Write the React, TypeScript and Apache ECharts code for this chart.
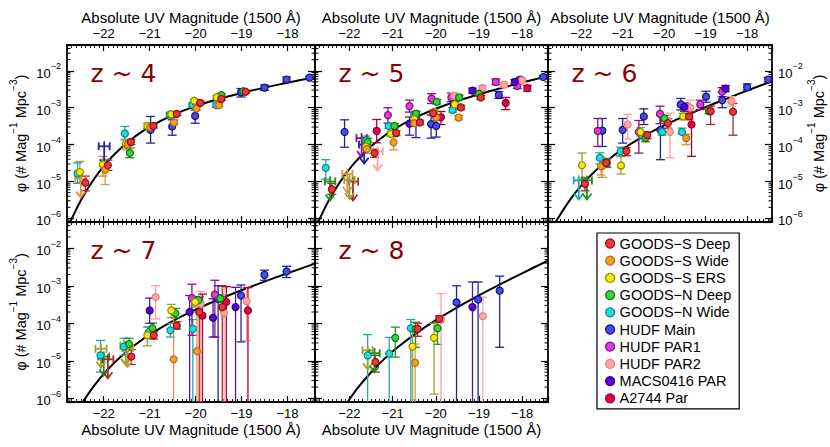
import React, { useEffect, useRef } from "react";
import * as echarts from "echarts";

// ---------- legend / field styling ----------
const FIELDS = [
  "GOODS−S Deep",
  "GOODS−S Wide",
  "GOODS−S ERS",
  "GOODS−N Deep",
  "GOODS−N Wide",
  "HUDF Main",
  "HUDF PAR1",
  "HUDF PAR2",
  "MACS0416 PAR",
  "A2744 Par",
];
const FILL = ["#e8363c", "#f2a01e", "#f4f000", "#33d633", "#18e0e0", "#4a4ae6", "#dc3cdc", "#ffa6a6", "#5a00dc", "#e6004c"];
const EDGE = ["#8b1010", "#b06a20", "#8a8a00", "#107010", "#108080", "#101080", "#801080", "#f07c7c", "#30007a", "#8a0030"];
const ERRC = ["#a52a2a", "#d8944a", "#a0a030", "#1e901e", "#20a8a8", "#22229a", "#8b108b", "#ffa0a0", "#4818a8", "#b0002a"];
const DRAW_ORDER = [5, 6, 7, 8, 9, 4, 3, 2, 1, 0];

const PANEL_LABELS = ["z ~ 4", "z ~ 5", "z ~ 6", "z ~ 7", "z ~ 8"];
const X_TITLE = "Absolute UV Magnitude (1500 Å)";
const X_MIN = -22.8;
const X_MAX = -17.4;
const Y_MIN = 8e-7;
const Y_MAX = 0.05;

// ---------- data: [field, M_UV, phi, phiLow, phiHigh] ----------
const Z4_POINTS = [
  [2, -22.52, 1.8e-5, 9.3e-6, 3.5e-5], [2, -22.02, 2.9e-5, 1.4e-5, 4.8e-5], [2, -21.52, 1.05e-4, 7.6e-5, 1.4e-4],
  [2, -21.05, 3.2e-4, 2.75e-4, 3.8e-4], [2, -20.53, 6.6e-4, 5.9e-4, 7.4e-4], [2, -20.03, 1.55e-3, 1.38e-3, 1.7e-3],
  [2, -19.54, 1.9e-3, 1.7e-3, 2.1e-3],
  [4, -22.57, 1.65e-5, 8.9e-6, 3.2e-5], [4, -21.54, 2.0e-4, 1.35e-4, 3.1e-4], [4, -20.56, 6.5e-4, 5.6e-4, 7.4e-4],
  [4, -20.07, 1.2e-3, 1.05e-3, 1.35e-3], [4, -19.55, 1.17e-3, 1.02e-3, 1.35e-3],
  [0, -22.4, 9.3e-6, 5.6e-6, 1.4e-5], [0, -21.91, 2.75e-5, 2.0e-5, 3.8e-5], [0, -21.41, 1.17e-4, 1.0e-4, 1.38e-4],
  [0, -20.92, 3.2e-4, 2.8e-4, 3.6e-4], [0, -20.41, 6.8e-4, 6.2e-4, 7.4e-4], [0, -19.9, 1.35e-3, 1.23e-3, 1.48e-3],
  [0, -19.44, 1.74e-3, 1.58e-3, 1.9e-3], [0, -18.91, 2.7e-3, 2.5e-3, 2.9e-3],
  [1, -21.97, 2.1e-5, 8.3e-6, 4.0e-5], [1, -21.48, 1.0e-4, 7.1e-5, 1.35e-4], [1, -20.99, 3.0e-4, 2.6e-4, 3.5e-4],
  [1, -20.47, 4.0e-4, 3.5e-4, 4.7e-4], [1, -19.98, 9.5e-4, 8.5e-4, 1.07e-3], [1, -19.49, 1.17e-3, 1.05e-3, 1.32e-3],
  [3, -21.43, 5.9e-5, 4.4e-5, 8.1e-5], [3, -21.0, 3.0e-4, 2.6e-4, 3.5e-4], [3, -20.5, 6.5e-4, 5.8e-4, 7.3e-4],
  [3, -20.01, 1.45e-3, 1.3e-3, 1.6e-3], [3, -19.44, 2.2e-3, 2.0e-3, 2.4e-3], [3, -18.96, 2.8e-3, 2.6e-3, 3.0e-3],
  [5, -20.98, 2.5e-4, 1.1e-4, 5.8e-4], [5, -20.51, 3.1e-4, 1.8e-4, 4.7e-4], [5, -20.01, 6.0e-4, 3.8e-4, 8.7e-4],
  [5, -19.01, 2.6e-3, 1.95e-3, 3.3e-3], [5, -18.5, 3.5e-3, 2.95e-3, 4.1e-3], [5, -18.02, 5.8e-3, 4.9e-3, 6.8e-3],
  [5, -17.52, 6.5e-3, 5.9e-3, 7.1e-3],
];
const Z4_LIMITS = [[1, -22.5, 1.2e-5], [5, -21.99, 9e-5]];
const Z4_CURVE_M = [-22.8, -22.5, -22.2, -21.9, -21.6, -21.3, -21.0, -20.5, -20.0, -19.5, -19.0, -18.5, -18.0, -17.4];
const Z4_CURVE_PHI = [5.2e-7, 3.07e-6, 1.23e-5, 3.65e-5, 8.65e-5, 1.73e-4, 3.04e-4, 6.31e-4, 1.1e-3, 1.72e-3, 2.51e-3, 3.5e-3, 4.75e-3, 6.7e-3];

const Z5_POINTS = [
  [5, -22.115, 2.2e-4, 8.5e-5, 4.7e-4], [5, -20.46, 5.1e-4, 1.55e-4, 7.9e-4], [5, -20.11, 3.6e-4, 1.5e-4, 6.3e-4],
  [5, -19.99, 3.2e-4, 1.6e-4, 5.6e-4], [5, -18.54, 2.2e-3, 1.8e-3, 2.75e-3], [5, -18.04, 5.8e-3, 5.0e-3, 6.6e-3],
  [5, -17.51, 6.8e-3, 6.2e-3, 7.4e-3],
  [4, -22.55, 2.35e-5, 1.15e-5, 3.9e-5], [4, -21.62, 1.3e-4, 1.0e-4, 1.7e-4], [4, -21.09, 3.2e-4, 2.8e-4, 3.7e-4],
  [4, -20.5, 6.3e-4, 5.5e-4, 7.2e-4], [4, -19.61, 8.7e-4, 7.6e-4, 1.0e-3],
  [3, -21.58, 1.17e-4, 8.9e-5, 1.5e-4], [3, -20.96, 3.2e-4, 2.8e-4, 3.7e-4], [3, -20.46, 6.9e-4, 6.0e-4, 7.9e-4],
  [3, -19.98, 1.45e-3, 1.26e-3, 1.66e-3], [3, -19.46, 1.9e-3, 1.66e-3, 2.2e-3], [3, -19.0, 2.4e-3, 2.1e-3, 2.7e-3],
  [0, -22.41, 6.2e-6, 4.5e-6, 8.9e-6], [0, -21.42, 5.9e-5, 4.5e-5, 7.5e-5], [0, -20.92, 2.05e-4, 1.74e-4, 2.4e-4],
  [0, -20.37, 4.0e-4, 3.5e-4, 4.6e-4], [0, -20.06, 7.1e-4, 6.2e-4, 8.1e-4], [0, -19.42, 1.02e-3, 8.9e-4, 1.17e-3],
  [0, -18.96, 1.9e-3, 1.7e-3, 2.15e-3],
  [2, -21.62, 8.9e-5, 7.0e-5, 1.1e-4], [2, -21.04, 1.95e-4, 1.66e-4, 2.3e-4], [2, -20.5, 4.9e-4, 4.2e-4, 5.6e-4],
  [2, -20.04, 7.8e-4, 6.8e-4, 8.9e-4], [2, -19.56, 1.23e-3, 1.07e-3, 1.4e-3],
  [1, -21.6, 7.6e-5, 5.8e-5, 1.0e-4], [1, -20.98, 1.15e-4, 7.2e-5, 1.66e-4], [1, -20.5, 3.8e-4, 3.2e-4, 4.5e-4],
  [1, -19.99, 5.4e-4, 4.6e-4, 6.3e-4], [1, -19.47, 5.4e-4, 4.7e-4, 6.2e-4],
  [6, -21.11, 6.3e-4, 3.8e-4, 1.0e-3], [6, -20.61, 1.1e-3, 7.6e-4, 1.6e-3], [6, -20.1, 1.78e-3, 1.3e-3, 2.4e-3],
  [6, -19.64, 1.9e-3, 1.45e-3, 2.5e-3], [6, -18.61, 5.0e-3, 4.2e-3, 6.0e-3], [6, -18.11, 3.9e-3, 3.3e-3, 4.6e-3],
  [7, -19.58, 2.1e-3, 1.7e-3, 2.6e-3], [7, -18.92, 3.4e-3, 2.9e-3, 4.0e-3], [7, -18.42, 4.2e-3, 3.6e-3, 4.9e-3],
  [7, -18.0, 5.5e-3, 4.8e-3, 6.3e-3],
  [8, -20.61, 3.7e-4, 1.8e-4, 5.6e-4], [8, -19.59, 1.23e-3, 1.0e-3, 1.5e-3], [8, -19.15, 2.9e-3, 2.5e-3, 3.4e-3],
  [8, -18.17, 5.0e-3, 4.3e-3, 5.8e-3],
  [9, -21.37, 2.35e-4, 1.12e-4, 4.8e-4], [9, -19.88, 5.5e-4, 3.5e-4, 7.9e-4], [9, -18.38, 1.35e-3, 8.9e-4, 1.9e-3],
  [9, -17.88, 3.4e-3, 2.8e-3, 4.0e-3],
];
const Z5_LIMITS = [
  [3, -22.45, 1.0e-5], [0, -21.92, 1.0e-5], [1, -22.05, 1.6e-5], [2, -22.0, 1.1e-5],
  [6, -21.72, 1.5e-4], [5, -21.66, 1.0e-4], [7, -21.35, 6.5e-5],
];
const Z5_CURVE_M = [-22.8, -22.5, -22.2, -21.9, -21.6, -21.3, -21.0, -20.5, -20.0, -19.5, -19.0, -18.5, -18.0, -17.4];
const Z5_CURVE_PHI = [5.15e-7, 2.8e-6, 1.06e-5, 3.04e-5, 7.07e-5, 1.4e-4, 2.47e-4, 5.21e-4, 9.36e-4, 1.52e-3, 2.31e-3, 3.37e-3, 4.79e-3, 7.16e-3];

const Z6_POINTS = [
  [2, -21.98, 2.75e-5, 1.15e-5, 5.9e-5], [2, -21.5, 2.6e-5, 1.3e-5, 4.5e-5], [2, -21.04, 2.7e-5, 1.6e-5, 4.7e-5],
  [2, -20.57, 2.2e-4, 1.7e-4, 2.9e-4], [2, -19.54, 5.8e-4, 4.7e-4, 7.1e-4],
  [4, -21.55, 4.4e-5, 3.0e-5, 6.0e-5], [4, -21.05, 6.6e-5, 5.0e-5, 8.5e-5], [4, -20.53, 1.8e-4, 1.45e-4, 2.2e-4],
  [4, -20.05, 2.2e-4, 1.8e-4, 2.7e-4], [4, -19.57, 2.2e-4, 1.9e-4, 2.8e-4],
  [3, -21.38, 3.2e-5, 2.4e-5, 4.2e-5], [3, -20.45, 1.5e-4, 1.2e-4, 1.8e-4], [3, -19.99, 5.1e-4, 4.2e-4, 6.2e-4],
  [3, -18.92, 8.1e-4, 6.9e-4, 9.5e-4],
  [0, -21.91, 8.7e-6, 5.6e-6, 1.26e-5], [0, -21.4, 3.2e-5, 2.6e-5, 3.9e-5], [0, -20.91, 6.6e-5, 5.0e-5, 8.3e-5],
  [0, -20.41, 1.8e-4, 1.45e-4, 2.2e-4], [0, -19.91, 3.8e-4, 2.8e-4, 5.0e-4], [0, -19.4, 5.8e-4, 4.8e-4, 7.0e-4],
  [0, -18.88, 8.1e-4, 3.5e-4, 1.1e-3], [0, -18.34, 7.8e-4, 1.8e-4, 1.3e-3],
  [1, -21.52, 2.6e-5, 1.5e-5, 4.4e-5], [1, -19.47, 1.5e-4, 1.0e-4, 1.9e-4],
  [5, -21.49, 2.4e-4, 8.9e-5, 5.1e-4], [5, -21.0, 2.5e-4, 1.1e-4, 5.1e-4], [5, -20.49, 5.8e-4, 3.5e-4, 9.3e-4],
  [5, -20.09, 2.5e-4, 3.9e-5, 6.3e-4], [5, -19.6, 1.23e-3, 8.7e-4, 1.78e-3], [5, -18.99, 2.0e-3, 1.4e-3, 2.8e-3],
  [5, -18.6, 1.6e-3, 1.0e-3, 2.6e-3], [5, -18.0, 3.6e-3, 3.0e-3, 4.4e-3], [5, -17.49, 5.8e-3, 5.0e-3, 6.6e-3],
  [6, -21.6, 2.35e-4, 8.9e-5, 5.1e-4], [6, -20.61, 2.2e-4, 5.9e-5, 4.5e-4], [6, -20.1, 6.8e-4, 3.7e-4, 1.1e-3],
  [6, -19.13, 1.23e-3, 8.9e-4, 1.6e-3], [6, -18.6, 2.7e-3, 2.0e-3, 3.5e-3],
  [7, -20.88, 3.5e-4, 1.4e-4, 6.6e-4], [7, -19.86, 2.2e-4, 4.4e-5, 7.1e-4], [7, -19.37, 1.0e-3, 5.0e-4, 1.6e-3],
  [7, -18.38, 1.5e-3, 1.1e-3, 2.0e-3],
  [8, -19.51, 1.05e-3, 8.0e-4, 1.35e-3], [8, -18.52, 3.3e-3, 2.7e-3, 4.0e-3],
  [9, -19.34, 3.5e-4, 4.8e-5, 7.8e-4],
];
const Z6_LIMITS = [[4, -22.06, 1.07e-5], [3, -21.86, 1.07e-5]];
const Z6_CURVE_M = [-22.8, -22.6, -22.3, -22.0, -21.7, -21.4, -21.0, -20.5, -20.0, -19.5, -19.0, -18.5, -18.0, -17.4];
const Z6_CURVE_PHI = [3.2e-7, 8.5e-7, 2.86e-6, 7.71e-6, 1.75e-5, 3.49e-5, 7.55e-5, 1.67e-4, 3.3e-4, 6.0e-4, 1.04e-3, 1.75e-3, 2.9e-3, 5.22e-3];

const Z7_POINTS = [
  [2, -21.05, 4.8e-5, 2.5e-5, 7.9e-5], [2, -20.53, 2.2e-4, 1.4e-4, 3.2e-4], [2, -20.01, 3.7e-4, 2.7e-4, 5.0e-4],
  [4, -22.07, 1.4e-5, 5e-6, 3.5e-5], [4, -21.56, 2.4e-5, 1.4e-5, 4.0e-5], [4, -21.02, 5.8e-5, 4.0e-5, 8.0e-5],
  [4, -20.55, 6.5e-5, 4.3e-5, 1.0e-4], [4, -20.06, 7.1e-5, 1e-7, 1.26e-4],
  [0, -21.4, 1.3e-5, 8e-6, 2.0e-5], [0, -20.91, 4.8e-5, 3.8e-5, 6.0e-5], [0, -20.41, 8.7e-5, 7.0e-5, 1.1e-4],
  [0, -19.92, 2.0e-4, 1e-7, 5.0e-4], [0, -19.42, 2.7e-4, 1e-7, 1.0e-3],
  [3, -21.45, 2.8e-5, 1.9e-5, 4.0e-5], [3, -20.94, 7.4e-5, 5.5e-5, 1.0e-4], [3, -20.44, 1.86e-4, 1.4e-4, 2.5e-4],
  [3, -19.94, 4.1e-4, 3.2e-4, 5.2e-4], [3, -19.46, 4.6e-4, 3.6e-4, 5.8e-4],
  [1, -20.48, 1.1e-5, 1e-7, 2.0e-4], [1, -19.97, 1.8e-5, 1e-7, 2.0e-4],
  [5, -19.51, 4.5e-4, 1e-7, 1.0e-3], [5, -19.01, 5.5e-4, 3.2e-5, 1.05e-3], [5, -18.5, 1.95e-3, 1.4e-3, 2.6e-3],
  [5, -18.02, 2.4e-3, 1.66e-3, 3.3e-3],
  [8, -21.0, 2.2e-4, 1.0e-4, 4.7e-4], [8, -20.13, 2.0e-4, 1e-7, 5.5e-4], [8, -19.62, 1.4e-4, 4.3e-5, 4.5e-4],
  [8, -19.13, 2.7e-4, 1e-7, 9.1e-4],
  [6, -20.08, 4.7e-4, 4.8e-5, 1.1e-3], [6, -19.58, 5.8e-4, 4.3e-5, 1.4e-3],
  [7, -20.87, 5.0e-4, 1.3e-4, 1.0e-3], [7, -19.89, 3.3e-4, 1e-7, 7.1e-4], [7, -19.38, 1.9e-4, 1e-7, 8.7e-4],
  [7, -18.89, 3.9e-4, 3.5e-5, 9.1e-4],
  [9, -19.85, 1.6e-4, 1e-7, 6.0e-4], [9, -19.33, 3.7e-4, 1e-7, 9.5e-4], [9, -18.86, 2.2e-4, 1e-7, 8.9e-4],
];
const Z7_LIMITS = [[3, -22.0, 1.3e-5], [2, -22.06, 2.1e-5], [0, -21.91, 1.1e-5], [1, -21.48, 2.2e-5], [2, -21.52, 2.5e-5]];
const Z7_CURVE_M = [-22.5, -22.2, -21.9, -21.6, -21.3, -21.0, -20.5, -20.0, -19.5, -19.0, -18.5, -18.0, -17.4];
const Z7_CURVE_PHI = [6.64e-7, 2.25e-6, 6.08e-6, 1.38e-5, 2.77e-5, 5.01e-5, 1.15e-4, 2.32e-4, 4.31e-4, 7.57e-4, 1.29e-3, 2.15e-3, 3.89e-3];

const Z8_POINTS = [
  [4, -21.58, 1.4e-5, 1e-7, 5.0e-5], [4, -21.08, 1.55e-5, 1e-7, 4.2e-5], [4, -20.58, 7.4e-5, 1e-7, 1.26e-4],
  [3, -20.94, 4.1e-5, 1.26e-5, 7.9e-5], [3, -20.47, 7.0e-5, 2.3e-5, 1.07e-4], [3, -19.96, 7.4e-5, 2.75e-5, 1.07e-4],
  [0, -21.4, 9.3e-6, 5.0e-6, 1.4e-5], [0, -20.42, 7.1e-5, 4.5e-5, 1.0e-4], [0, -19.92, 1.32e-4, 1.07e-4, 1.58e-4],
  [2, -20.54, 2.4e-5, 1e-7, 7.9e-5], [2, -20.04, 4.1e-5, 1.3e-6, 1.0e-4],
  [1, -20.48, 8.9e-6, 1e-7, 2.8e-5],
  [7, -19.88, 1.26e-4, 1e-7, 6.2e-4], [7, -18.91, 1.55e-4, 1e-7, 5.0e-4],
  [5, -19.52, 3.6e-4, 1e-7, 1.0e-3], [5, -19.02, 4.3e-4, 1e-7, 1.26e-3], [5, -18.52, 7.4e-4, 2.3e-5, 1.8e-3],
  [8, -19.15, 2.7e-4, 1e-7, 1.26e-3],
];
const Z8_LIMITS = [[2, -21.58, 1.9e-5], [3, -21.42, 1.6e-5]];
const Z8_CURVE_M = [-22.2, -22.0, -21.8, -21.5, -21.2, -20.9, -20.5, -20.0, -19.5, -19.0, -18.5, -18.0, -17.4];
const Z8_CURVE_PHI = [4.23e-7, 9.5e-7, 1.95e-6, 4.97e-6, 1.11e-5, 2.22e-5, 5.0e-5, 1.21e-4, 2.66e-4, 5.52e-4, 1.1e-3, 2.15e-3, 4.69e-3];

// minor tick mantissas for the log axis
const LOG_MINOR_MANTISSA = [2, 3, 4, 5, 6, 7, 8, 9];
const LOG_DECADES = [-7, -6, -5, -4, -3, -2];

const PANELS = [
  { points: Z4_POINTS, limits: Z4_LIMITS, cm: Z4_CURVE_M, cp: Z4_CURVE_PHI },
  { points: Z5_POINTS, limits: Z5_LIMITS, cm: Z5_CURVE_M, cp: Z5_CURVE_PHI },
  { points: Z6_POINTS, limits: Z6_LIMITS, cm: Z6_CURVE_M, cp: Z6_CURVE_PHI },
  { points: Z7_POINTS, limits: Z7_LIMITS, cm: Z7_CURVE_M, cp: Z7_CURVE_PHI },
  { points: Z8_POINTS, limits: Z8_LIMITS, cm: Z8_CURVE_M, cp: Z8_CURVE_PHI },
];

// ---------- layout ----------
const LAYOUT = [
  { left: 67, top: 45, width: 248, height: 177 },
  { left: 315, top: 45, width: 233, height: 177 },
  { left: 548, top: 45, width: 224, height: 177 },
  { left: 67, top: 222, width: 248, height: 180 },
  { left: 315, top: 222, width: 233, height: 180 },
];

const FONT = "'Liberation Sans', Arial, Helvetica, sans-serif";

function errorBarItem(_params: any, api: any) {
  const x = api.value(0);
  const lo = api.value(2);
  const hi = api.value(3);
  const f = api.value(4);
  const pLo = api.coord([x, lo]);
  const pHi = api.coord([x, hi]);
  const c = ERRC[f];
  const w = 4.5;
  const st = { stroke: c, lineWidth: 1.3 };
  return {
    type: "group",
    children: [
      { type: "line", shape: { x1: pLo[0], y1: pLo[1], x2: pHi[0], y2: pHi[1] }, style: st },
      { type: "line", shape: { x1: pHi[0] - w, y1: pHi[1], x2: pHi[0] + w, y2: pHi[1] }, style: st },
      { type: "line", shape: { x1: pLo[0] - w, y1: pLo[1], x2: pLo[0] + w, y2: pLo[1] }, style: st },
    ],
  };
}

function limitItem(_params: any, api: any) {
  const x = api.value(0);
  const y = api.value(1);
  const f = api.value(2);
  const p = api.coord([x, y]);
  const a = api.coord([x - 0.12, y]);
  const b = api.coord([x + 0.12, y]);
  const st = { stroke: ERRC[f], lineWidth: 1.8, fill: "none" };
  return {
    type: "group",
    children: [
      { type: "line", shape: { x1: a[0], y1: p[1], x2: b[0], y2: p[1] }, style: st },
      { type: "line", shape: { x1: a[0], y1: p[1] - 4, x2: a[0], y2: p[1] + 4 }, style: st },
      { type: "line", shape: { x1: b[0], y1: p[1] - 4, x2: b[0], y2: p[1] + 4 }, style: st },
      { type: "line", shape: { x1: p[0], y1: p[1] - 5, x2: p[0], y2: p[1] + 19 }, style: st },
      { type: "polyline", shape: { points: [[p[0] - 4.5, p[1] + 13], [p[0], p[1] + 19], [p[0] + 4.5, p[1] + 13]] }, style: st },
    ],
  };
}

function minorItem(_params: any, api: any) {
  const v = api.value(1);
  const p = api.coord([X_MIN, v]);
  const q = api.coord([X_MAX, v]);
  const st = { stroke: "#000", lineWidth: 1 };
  return {
    type: "group",
    children: [
      { type: "line", shape: { x1: p[0], y1: p[1], x2: p[0] + 3.5, y2: p[1] }, style: st },
      { type: "line", shape: { x1: q[0] - 3.5, y1: q[1], x2: q[0], y2: q[1] }, style: st },
    ],
  };
}

function xLabel(v: number) {
  const r = Math.round(v);
  if (Math.abs(v - r) > 1e-6) return "";
  return (r < 0 ? "−" : "") + Math.abs(r);
}

function yLabel(v: number) {
  const l = Math.log10(v);
  const r = Math.round(l);
  if (Math.abs(l - r) > 1e-6) return "";
  return `{b|10}{s|${r < 0 ? "−" : ""}${Math.abs(r)}}`;
}

const Y_NAME = "{t|φ (# Mag}{s|−1}{t| Mpc}{s|−3}{t|)}";

function makeX(i: number, position: "top" | "bottom", labeled: boolean) {
  return {
    type: "value",
    gridIndex: i,
    position,
    min: X_MIN,
    max: X_MAX,
    axisLine: { show: true, onZero: false, lineStyle: { color: "#000", width: 1.8 } },
    axisTick: { show: true, inside: true, length: 6, lineStyle: { color: "#000", width: 1.2 } },
    minorTick: { show: true, splitNumber: 10, length: 3, lineStyle: { color: "#000", width: 0.9 } },
    splitLine: { show: false },
    axisLabel: {
      show: labeled,
      formatter: xLabel,
      fontSize: 13,
      fontFamily: FONT,
      color: "#000",
      margin: 5,
      showMinLabel: false,
      showMaxLabel: false,
    },
    name: labeled ? X_TITLE : "",
    nameLocation: "middle",
    nameGap: 20,
    nameTextStyle: { fontSize: 15, fontFamily: FONT, color: "#000" },
  };
}

function makeY(i: number, position: "left" | "right", labeled: boolean) {
  return {
    type: "log",
    logBase: 10,
    gridIndex: i,
    position,
    min: Y_MIN,
    max: Y_MAX,
    axisLine: { show: true, onZero: false, lineStyle: { color: "#000", width: 1.8 } },
    axisTick: { show: true, inside: true, length: 7, lineStyle: { color: "#000", width: 1.2 } },
    splitLine: { show: false },
    axisLabel: {
      show: labeled,
      formatter: yLabel,
      margin: 6,
      rich: {
        b: { fontSize: 13, fontFamily: FONT, color: "#000", lineHeight: 18, verticalAlign: "bottom" },
        s: { fontSize: 9, fontFamily: FONT, color: "#000", lineHeight: 10, verticalAlign: "top" },
      },
    },
    name: labeled ? Y_NAME : "",
    nameLocation: "middle",
    nameGap: position === "left" ? 39 : 33,
    nameTextStyle: {
      rich: {
        t: { fontSize: 14.5, fontFamily: FONT, color: "#000", lineHeight: 20, verticalAlign: "bottom" },
        s: { fontSize: 10, fontFamily: FONT, color: "#000", lineHeight: 11, verticalAlign: "top" },
      },
    },
  };
}

function buildOption() {
  const grid: any[] = [];
  const xAxis: any[] = [];
  const yAxis: any[] = [];
  const series: any[] = [];
  const graphic: any[] = [];

  const minorVals: number[] = [];
  LOG_DECADES.forEach((d) =>
    LOG_MINOR_MANTISSA.forEach((m) => {
      const v = m * Math.pow(10, d);
      if (v > Y_MIN * 0.999 && v < Y_MAX) minorVals.push(v);
    })
  );

  PANELS.forEach((p, i) => {
    const g = LAYOUT[i];
    grid.push({ left: g.left, top: g.top, width: g.width, height: g.height, show: false });
    const isTop = i < 3;
    xAxis.push(makeX(i, "bottom", !isTop));
    xAxis.push(makeX(i, "top", isTop));
    yAxis.push(makeY(i, "left", i === 0 || i === 3));
    yAxis.push(makeY(i, "right", i === 2));
    const xi = 2 * i;
    const yi = 2 * i;

    series.push({
      type: "custom",
      xAxisIndex: xi,
      yAxisIndex: yi,
      silent: true,
      clip: true,
      z: 2,
      renderItem: minorItem,
      data: minorVals.map((v) => [X_MIN, v]),
      encode: { x: 0, y: 1 },
    });

    series.push({
      type: "line",
      xAxisIndex: xi,
      yAxisIndex: yi,
      silent: true,
      showSymbol: false,
      symbol: "none",
      smooth: 0.3,
      clip: true,
      z: 3,
      lineStyle: { color: "#000", width: 2 },
      data: p.cm.map((m, k) => [m, p.cp[k]]),
    });

    series.push({
      type: "custom",
      xAxisIndex: xi,
      yAxisIndex: yi,
      silent: true,
      clip: true,
      z: 4,
      renderItem: errorBarItem,
      data: p.points.map((r) => [r[1], r[2], r[3], r[4], r[0]]),
      encode: { x: 0, y: 1 },
    });

    series.push({
      type: "custom",
      xAxisIndex: xi,
      yAxisIndex: yi,
      silent: true,
      clip: true,
      z: 4,
      renderItem: limitItem,
      data: p.limits.map((r) => [r[1], r[2], r[0]]),
      encode: { x: 0, y: 1 },
    });

    DRAW_ORDER.forEach((f) => {
      const pts = p.points.filter((r) => r[0] === f).map((r) => [r[1], r[2]]);
      if (!pts.length) return;
      series.push({
        type: "scatter",
        name: FIELDS[f],
        xAxisIndex: xi,
        yAxisIndex: yi,
        symbol: "circle",
        symbolSize: 7,
        z: 5,
        itemStyle: { color: FILL[f], borderColor: EDGE[f], borderWidth: 1.2, opacity: 1 },
        data: pts,
      });
    });

    graphic.push({
      type: "text",
      x: g.left + 23.5,
      y: g.top + 28.5,
      silent: true,
      style: {
        text: PANEL_LABELS[i],
        fill: "#8b0000",
        font: "25px 'DejaVu Sans', sans-serif",
        verticalAlign: "middle",
        textVerticalAlign: "middle",
      },
    });
  });

  return {
    animation: false,
    backgroundColor: "#fff",
    grid,
    xAxis,
    yAxis,
    series,
    graphic,
    legend: {
      show: true,
      orient: "vertical",
      left: 597,
      top: 233,
      selectedMode: false,
      itemWidth: 9,
      itemHeight: 9,
      itemGap: 2.2,
      padding: [3, 8, 3, 8],
      borderColor: "#000",
      borderWidth: 1.2,
      textStyle: { fontSize: 14.5, fontFamily: FONT, color: "#000" },
      data: FIELDS.map((n, k) => ({
        name: n,
        icon: "circle",
        itemStyle: { color: FILL[k], borderColor: EDGE[k], borderWidth: 1.2 },
      })),
    },
  };
}

export default function App() {
  const ref = useRef<HTMLDivElement>(null);
  useEffect(() => {
    if (!ref.current) return;
    const chart = echarts.init(ref.current, null, { renderer: "svg" });
    chart.setOption(buildOption() as any);
    return () => chart.dispose();
  }, []);
  return (
    <div
      ref={ref}
      style={{ position: "absolute", left: 0, top: 0, width: 830, height: 447, background: "#fff" }}
    />
  );
}
